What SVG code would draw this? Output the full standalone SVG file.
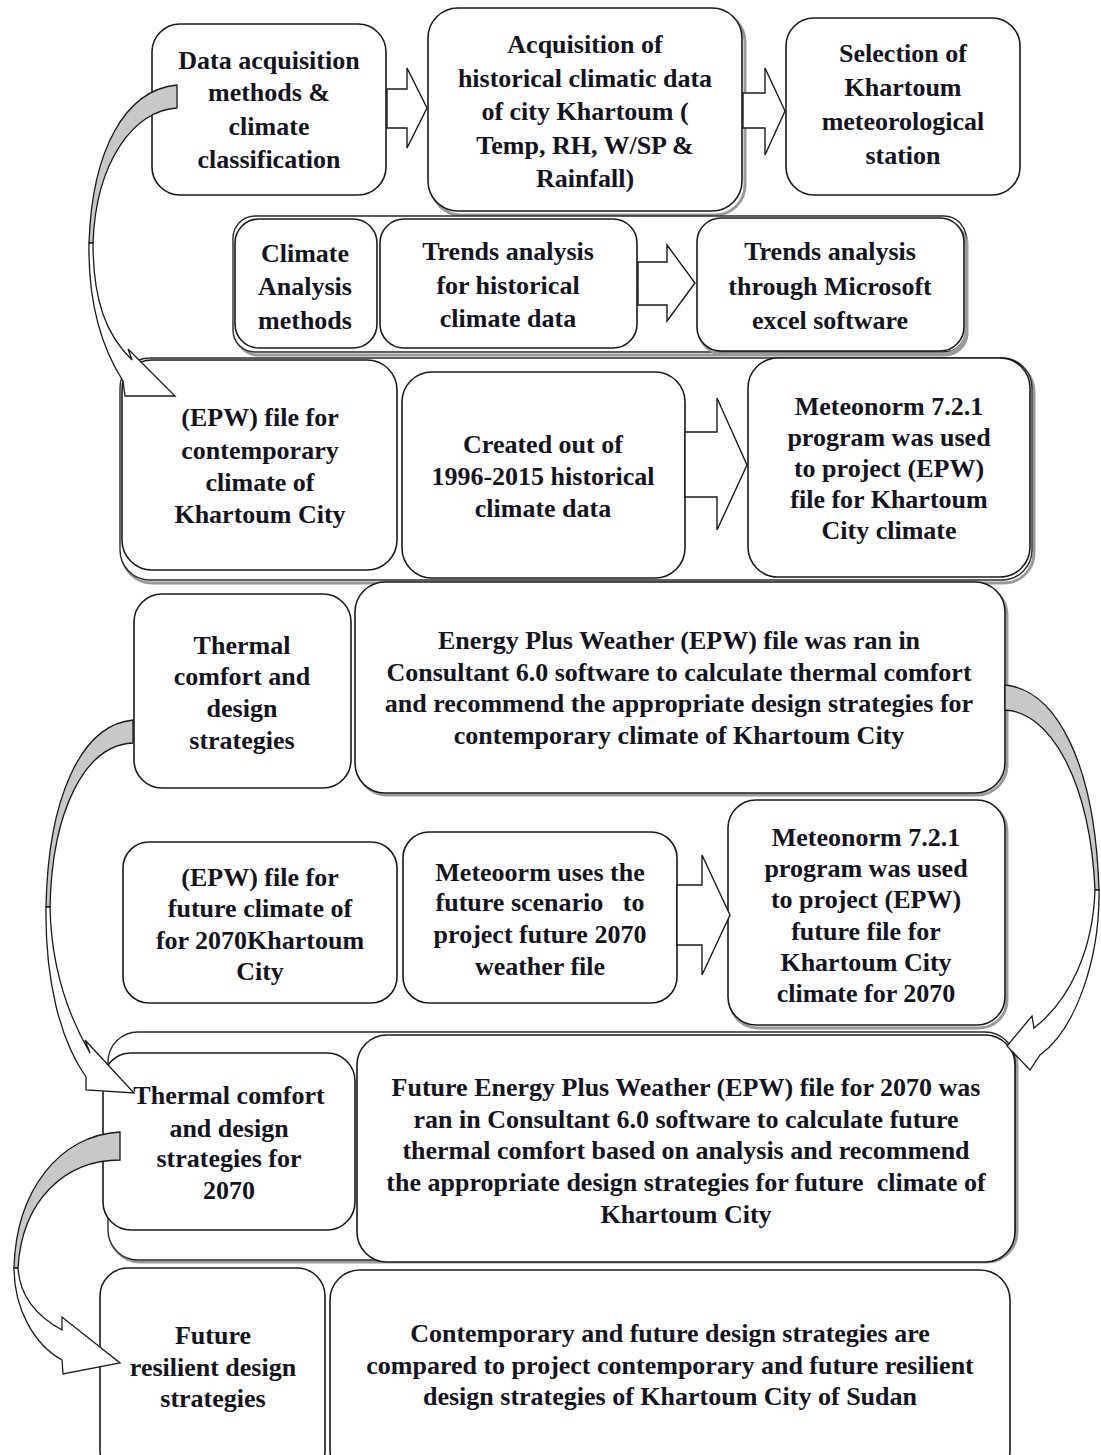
<svg xmlns="http://www.w3.org/2000/svg" width="1101" height="1455" viewBox="0 0 1101 1455">
  <style>
    .box { fill: #ffffff; stroke: #1a1a1a; stroke-width: 1.6; }
    .shadow { fill: none; stroke: #9a9a9a; stroke-width: 3; }
    .frame { fill: #ffffff; stroke: #2a2a2a; stroke-width: 1.4; }
    .lbl { font-family: "Liberation Serif", "Times New Roman", serif; font-weight: bold; font-size: 26px; fill: #141420; text-anchor: middle; }
    .blk { fill: #ffffff; stroke: #1a1a1a; stroke-width: 1.4; stroke-linejoin: miter; }
    .back { fill: #c8c8c8; stroke: #1a1a1a; stroke-width: 1.3; }
    .front { fill: #ffffff; stroke: #1a1a1a; stroke-width: 1.3; stroke-linejoin: miter; }
  </style>

  <!-- row 1 -->
  <g id="node-data-acquisition">
    <rect class="box" x="152" y="24" width="234" height="171" rx="28"/>
    <text class="lbl" x="269"><tspan x="269" y="69">Data acquisition</tspan><tspan x="269" y="101">methods &amp;</tspan><tspan x="269" y="135">climate</tspan><tspan x="269" y="168">classification</tspan></text>
  </g>
  <g id="node-historical-data">
    <rect class="shadow" x="431" y="12" width="314" height="203" rx="30"/>
    <rect class="box" x="428" y="8" width="314" height="203" rx="30"/>
    <text class="lbl" x="585"><tspan x="585" y="53">Acquisition of</tspan><tspan x="585" y="87">historical climatic data</tspan><tspan x="585" y="120">of city Khartoum (</tspan><tspan x="585" y="154">Temp, RH, W/SP &amp;</tspan><tspan x="585" y="187">Rainfall)</tspan></text>
  </g>
  <g id="node-station">
    <rect class="box" x="786" y="18" width="234" height="177" rx="28"/>
    <text class="lbl" x="903"><tspan x="903" y="62">Selection of</tspan><tspan x="903" y="96">Khartoum</tspan><tspan x="903" y="130">meteorological</tspan><tspan x="903" y="164">station</tspan></text>
  </g>

  <!-- row 2: climate analysis methods -->
  <g id="node-analysis-group">
    <rect class="shadow" x="236" y="221" width="731" height="134" rx="22"/>
    <rect class="frame" x="233" y="216" width="733" height="136" rx="22"/>
  </g>
  <g id="node-climate-analysis">
    <rect class="box" x="235" y="219" width="142" height="129" rx="24"/>
    <text class="lbl" x="305"><tspan x="305" y="262">Climate</tspan><tspan x="305" y="295">Analysis</tspan><tspan x="305" y="329">methods</tspan></text>
  </g>
  <g id="node-trends-historical">
    <rect class="box" x="380" y="219" width="257" height="129" rx="24"/>
    <text class="lbl" x="508"><tspan x="508" y="260">Trends analysis</tspan><tspan x="508" y="294">for historical</tspan><tspan x="508" y="327">climate data</tspan></text>
  </g>
  <g id="node-trends-excel">
    <rect class="shadow" x="699" y="221" width="267" height="133" rx="24"/>
    <rect class="box" x="697" y="218" width="267" height="133" rx="24"/>
    <text class="lbl" x="830"><tspan x="830" y="260">Trends analysis</tspan><tspan x="830" y="295">through Microsoft</tspan><tspan x="830" y="329">excel software</tspan></text>
  </g>

  <!-- row 3: contemporary EPW file -->
  <g id="node-epw-group">
    <rect class="shadow" x="122" y="362" width="912" height="221" rx="30"/>
    <rect class="frame" x="120" y="358" width="912" height="222" rx="30"/>
  </g>
  <g id="node-epw-contemporary">
    <rect class="box" x="122" y="360" width="275" height="210" rx="30"/>
    <text class="lbl" x="260"><tspan x="260" y="426">(EPW) file for</tspan><tspan x="260" y="459">contemporary</tspan><tspan x="260" y="491">climate of</tspan><tspan x="260" y="523">Khartoum City</tspan></text>
  </g>
  <g id="node-created-out">
    <rect class="box" x="402" y="372" width="283" height="206" rx="30"/>
    <text class="lbl" x="543"><tspan x="543" y="453">Created out of</tspan><tspan x="543" y="485">1996-2015 historical</tspan><tspan x="543" y="517">climate data</tspan></text>
  </g>
  <g id="node-meteonorm-contemporary">
    <rect class="box" x="748" y="358" width="282" height="219" rx="30"/>
    <text class="lbl" x="889"><tspan x="889" y="415">Meteonorm 7.2.1</tspan><tspan x="889" y="446">program was used</tspan><tspan x="889" y="477">to project (EPW)</tspan><tspan x="889" y="508">file for Khartoum</tspan><tspan x="889" y="539">City climate</tspan></text>
  </g>

  <!-- row 4: thermal comfort today -->
  <g id="node-thermal-comfort">
    <rect class="box" x="134" y="594" width="217" height="194" rx="28"/>
    <text class="lbl" x="242"><tspan x="242" y="654">Thermal</tspan><tspan x="242" y="685">comfort and</tspan><tspan x="242" y="717">design</tspan><tspan x="242" y="749">strategies</tspan></text>
  </g>
  <g id="node-consultant-contemporary">
    <rect class="shadow" x="357" y="585" width="650" height="210" rx="30"/>
    <rect class="box" x="355" y="582" width="650" height="211" rx="30"/>
    <text class="lbl" x="679"><tspan x="679" y="649">Energy Plus Weather (EPW) file was ran in</tspan><tspan x="679" y="681">Consultant 6.0 software to calculate thermal comfort</tspan><tspan x="679" y="712">and recommend the appropriate design strategies for</tspan><tspan x="679" y="744">contemporary climate of Khartoum City</tspan></text>
  </g>

  <!-- row 5: future EPW file -->
  <g id="node-epw-future">
    <rect class="box" x="123" y="842" width="274" height="161" rx="26"/>
    <text class="lbl" x="260"><tspan x="260" y="886">(EPW) file for</tspan><tspan x="260" y="917">future climate of</tspan><tspan x="260" y="949">for 2070Khartoum</tspan><tspan x="260" y="980">City</tspan></text>
  </g>
  <g id="node-meteoorm-scenario">
    <rect class="box" x="403" y="832" width="274" height="171" rx="26"/>
    <text class="lbl" x="540" xml:space="preserve"><tspan x="540" y="881">Meteoorm uses the</tspan><tspan x="540" y="911">future scenario   to</tspan><tspan x="540" y="943">project future 2070</tspan><tspan x="540" y="975">weather file</tspan></text>
  </g>
  <g id="node-meteonorm-future">
    <rect class="shadow" x="730" y="803" width="277" height="225" rx="28"/>
    <rect class="box" x="728" y="800" width="277" height="225" rx="28"/>
    <text class="lbl" x="866"><tspan x="866" y="846">Meteonorm 7.2.1</tspan><tspan x="866" y="877">program was used</tspan><tspan x="866" y="908">to project (EPW)</tspan><tspan x="866" y="940">future file for</tspan><tspan x="866" y="971">Khartoum City</tspan><tspan x="866" y="1002">climate for 2070</tspan></text>
  </g>

  <!-- row 6: thermal comfort 2070 -->
  <g id="node-future-group">
    <rect class="shadow" x="110" y="1035" width="907" height="227" rx="30"/>
    <rect class="frame" x="108" y="1032" width="907" height="228" rx="30"/>
  </g>
  <g id="node-thermal-2070">
    <rect class="box" x="103" y="1053" width="252" height="177" rx="28"/>
    <text class="lbl" x="229"><tspan x="229" y="1104">Thermal comfort</tspan><tspan x="229" y="1137">and design</tspan><tspan x="229" y="1167">strategies for</tspan><tspan x="229" y="1199">2070</tspan></text>
  </g>
  <g id="node-consultant-future">
    <rect class="box" x="357" y="1035" width="658" height="227" rx="30"/>
    <text class="lbl" x="686" xml:space="preserve"><tspan x="686" y="1096">Future Energy Plus Weather (EPW) file for 2070 was</tspan><tspan x="686" y="1128">ran in Consultant 6.0 software to calculate future</tspan><tspan x="686" y="1159">thermal comfort based on analysis and recommend</tspan><tspan x="686" y="1191">the appropriate design strategies for future  climate of</tspan><tspan x="686" y="1223">Khartoum City</tspan></text>
  </g>

  <!-- row 7: resilient strategies -->
  <g id="node-resilient">
    <rect class="box" x="100" y="1268" width="225" height="210" rx="28"/>
    <text class="lbl" x="213"><tspan x="213" y="1344">Future</tspan><tspan x="213" y="1376">resilient design</tspan><tspan x="213" y="1407">strategies</tspan></text>
  </g>
  <g id="node-comparison">
    <rect class="box" x="330" y="1270" width="680" height="210" rx="30"/>
    <text class="lbl" x="670"><tspan x="670" y="1342">Contemporary and future design strategies are</tspan><tspan x="670" y="1374">compared to project contemporary and future resilient</tspan><tspan x="670" y="1405">design strategies of Khartoum City of Sudan</tspan></text>
  </g>

  <!-- connectors -->
  <g id="connectors">
    <!-- straight block arrows -->
    <path class="blk" d="M387,89 L407,89 L407,68 L427,108 L407,148 L407,128 L387,128 Z"/>
    <path class="blk" d="M743,93 L765,93 L765,68 L785,111 L765,155 L765,128 L743,128 Z"/>
    <path class="blk" d="M638,262 L667,262 L667,245 L695,283 L667,321 L667,305 L638,305 Z"/>
    <path class="blk" d="M685,432 L717,432 L717,398 L747,465 L717,530 L717,497 L685,497 Z"/>
    <path class="blk" d="M677,885 L702,885 L702,855 L730,915 L702,975 L702,945 L677,945 Z"/>

    <!-- curved arrow: data acquisition -> contemporary EPW file -->
    <path class="back" d="M177,85 C125,90 92,150 89,243 L93,243 C96,160 135,110 177,108 Z"/>
    <path class="front" d="M89,243 C88,300 100,345 123,381 L125,396 L175,396 L128,349 L132,360 C106,335 93,300 93,243 Z"/>

    <!-- curved arrow: thermal comfort -> thermal comfort 2070 -->
    <path class="back" d="M133,720 C80,725 48,800 46,907 L50,907 C52,810 85,745 133,743 Z"/>
    <path class="front" d="M46,907 C45,980 60,1040 86,1077 L86,1090 L134,1093 L85,1040 L90,1053 C65,1010 51,960 50,907 Z"/>

    <!-- curved arrow: contemporary consultant -> future consultant -->
    <path class="back" d="M1005,685 C1055,690 1095,760 1099,890 L1095,890 C1090,780 1050,712 1005,710 Z"/>
    <path class="front" d="M1099,890 C1100,960 1075,1030 1040,1055 L1030,1070 L1007,1046 L1032,1016 L1034,1028 C1070,1000 1093,950 1095,890 Z"/>

    <!-- curved arrow: thermal comfort 2070 -> future resilient strategies -->
    <path class="back" d="M120,1132 C60,1135 16,1190 14,1268 L18,1268 C22,1200 65,1160 120,1160 Z"/>
    <path class="front" d="M14,1268 C14,1310 35,1345 62,1360 L63,1374 L120,1363 L62,1317 L62,1330 C40,1318 20,1300 18,1268 Z"/>
  </g>
</svg>
